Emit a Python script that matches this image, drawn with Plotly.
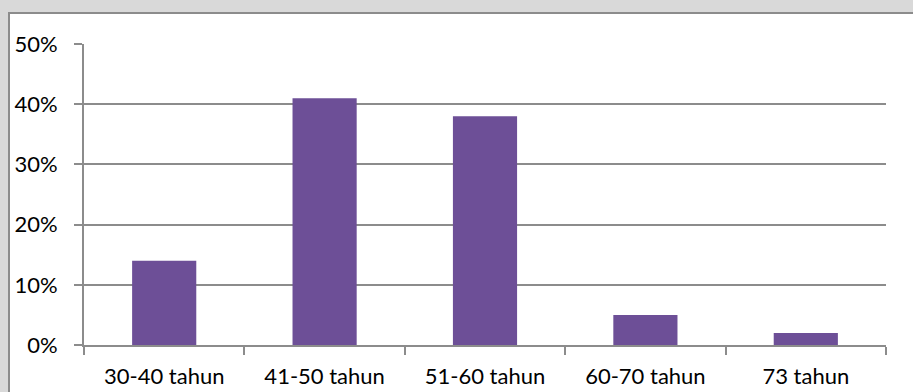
import plotly.graph_objects as go

categories = ["30-40 tahun", "41-50 tahun", "51-60 tahun", "60-70 tahun", "73 tahun"]
values = [0.14, 0.41, 0.38, 0.05, 0.02]
y_ticks = [0, 0.1, 0.2, 0.3, 0.4, 0.5]
y_tick_labels = ["0%", "10%", "20%", "30%", "40%", "50%"]

fig = go.Figure()
fig.add_trace(go.Bar(
    x=categories, y=values,
    marker=dict(color="#6d4f97", line=dict(width=0)),
    width=0.4,
    hoverinfo="x+y",
))

font = dict(family="Lato, Calibri, Carlito, sans-serif", size=22, color="#000000")

fig.update_layout(
    width=913, height=392,
    margin=dict(l=84, r=27, t=44, b=47),
    paper_bgcolor="#d9d9d9",
    plot_bgcolor="rgba(0,0,0,0)",
    showlegend=False,
    font=font,
    shapes=[dict(type="rect", xref="paper", yref="paper", layer="below",
                 x0=-75/802, x1=1 + 27/802 + 0.01, y0=-47/301 - 0.05, y1=1 + 31/301,
                 fillcolor="#ffffff", line=dict(color="#8c8c8c", width=2))],
)
fig.update_xaxes(
    showgrid=False, showline=True, linecolor="#8c8c8c", linewidth=2,
    ticks="outside", tickson="boundaries", ticklen=8, tickcolor="#8c8c8c", tickwidth=1.5,
    tickfont=font, ticklabelstandoff=11, automargin=False,
)
fig.update_yaxes(
    range=[0, 0.5], tickvals=y_ticks, ticktext=y_tick_labels,
    showgrid=True, gridcolor="#8c8c8c", gridwidth=2,
    showline=True, linecolor="#8c8c8c", linewidth=2,
    ticks="outside", ticklen=8, tickcolor="#8c8c8c", tickwidth=2,
    tickfont=font, ticklabelstandoff=12, zeroline=False, automargin=False,
)

fig.write_html("out.html")
